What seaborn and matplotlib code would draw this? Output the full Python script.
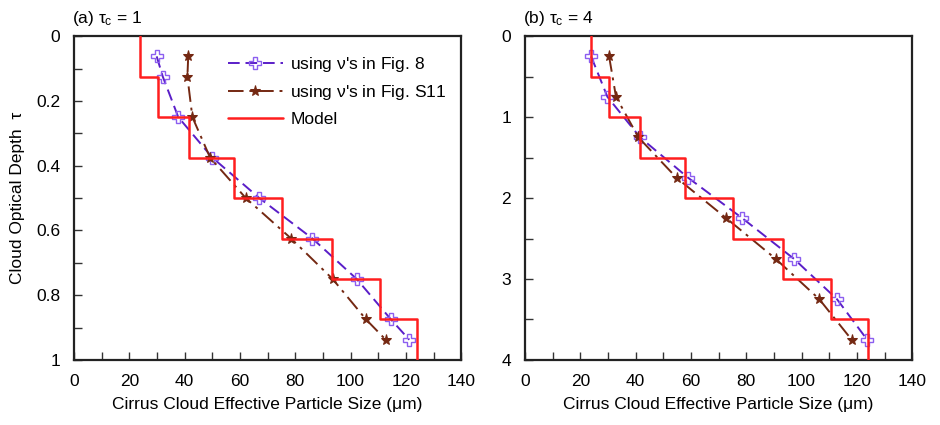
import numpy as np
import pandas as pd
import matplotlib
matplotlib.use("Agg")
import matplotlib.pyplot as plt
from matplotlib.ticker import MultipleLocator
import seaborn as sns

# Model effective particle size per layer (um), identical for both cloud depths
model_size = [23.8, 30.5, 41.4, 58.0, 75.2, 93.3, 110.6, 123.9]

# Panel (a): tau_c = 1
tau_a_edges = [0, 0.125, 0.25, 0.375, 0.5, 0.625, 0.75, 0.875, 1.0]
tau_a_pts = [0.0625, 0.125, 0.25, 0.375, 0.5, 0.625, 0.75, 0.875, 0.9375]
fig8_a = [29.9, 32.1, 37.7, 50.0, 67.0, 86.2, 102.2, 114.6, 121.2]
figs11_a = [41.3, 41.0, 42.8, 49.2, 62.1, 78.5, 93.5, 105.6, 112.7]

# Panel (b): tau_c = 4
tau_b_edges = [0, 0.5, 1.0, 1.5, 2.0, 2.5, 3.0, 3.5, 4.0]
tau_b_pts = [0.25, 0.75, 1.25, 1.75, 2.25, 2.75, 3.25, 3.75]
fig8_b = [23.9, 29.8, 41.6, 59.0, 78.6, 97.2, 112.8, 123.7]
figs11_b = [30.4, 32.9, 41.0, 54.8, 72.8, 90.6, 106.4, 118.1]

sns.set_theme(style="white")
plt.rcParams['font.family'] = ['Liberation Sans', 'DejaVu Sans']
plt.rcParams['mathtext.fontset'] = 'custom'
plt.rcParams['mathtext.rm'] = 'Liberation Sans'
plt.rcParams['mathtext.it'] = 'Liberation Sans'
plt.rcParams['text.color'] = 'black'
plt.rcParams['axes.labelcolor'] = 'black'
plt.rcParams['xtick.color'] = 'black'
plt.rcParams['ytick.color'] = 'black'

PURPLE_LINE = "#5a1ec8"
PURPLE_MARK = "#8c5ef0"
BROWN = "#742812"
RED = "#ff1e1e"

fig = plt.figure(figsize=(9.4, 4.25), dpi=100)
ax_a = fig.add_axes([0.0787, 0.153, 0.412, 0.762])
ax_b = fig.add_axes([0.5585, 0.153, 0.412, 0.762])


def step_profile(sizes, edges):
    xs = np.repeat(sizes, 2)
    ys = np.repeat(edges, 2)[1:-1]
    return xs, ys


def draw_panel(ax, edges, pts, f8, f11, ymax, ymajor, yminor, label, legend):
    d8 = pd.DataFrame({"size": f8, "tau": pts})
    d11 = pd.DataFrame({"size": f11, "tau": pts[:len(f11)]})
    sx, sy = step_profile(model_size, edges)
    dm = pd.DataFrame({"size": sx, "tau": sy})

    sns.lineplot(data=d8, x="size", y="tau", sort=False, estimator=None, ax=ax,
                 color=PURPLE_LINE, lw=1.4, linestyle=(0, (6, 3)),
                 marker="P", markersize=8, markerfacecolor="none",
                 markeredgecolor=PURPLE_MARK, markeredgewidth=1.0,
                 label=r"using $\nu$'s in Fig. 8", zorder=3)
    sns.lineplot(data=d11, x="size", y="tau", sort=False, estimator=None, ax=ax,
                 color=BROWN, lw=1.4, linestyle=(0, (8, 3, 1.5, 3)),
                 marker="*", markersize=8, markerfacecolor=BROWN,
                 markeredgecolor=BROWN, label=r"using $\nu$'s in Fig. S11", zorder=3)
    sns.lineplot(data=dm, x="size", y="tau", sort=False, estimator=None, ax=ax,
                 color=RED, lw=1.8, label="Model", zorder=4)

    ax.set_xlim(0, 140)
    ax.set_ylim(ymax, 0)
    ax.xaxis.set_major_locator(MultipleLocator(20))
    ax.xaxis.set_minor_locator(MultipleLocator(10))
    ax.yaxis.set_major_locator(MultipleLocator(ymajor))
    ax.yaxis.set_minor_locator(MultipleLocator(yminor))
    ax.tick_params(axis="both", which="both", direction="in", top=False, right=False,
                   bottom=True, left=True, labelsize=12.5, color="#333333")
    ax.tick_params(axis="both", which="major", length=6, width=1, pad=10)
    ax.tick_params(axis="both", which="minor", length=6, width=1)
    for sp in ax.spines.values():
        sp.set_color("#222222")
        sp.set_linewidth(1.6)
    ax.set_xlabel("Cirrus Cloud Effective Particle Size (\u03bcm)", fontsize=12.5, labelpad=6)
    ax.set_ylabel("")
    ax.text(-0.005, 1.025, label, transform=ax.transAxes, ha="left", va="bottom",
            fontsize=12.5)
    if legend:
        ax.legend(loc="upper left", bbox_to_anchor=(0.37, 0.975), frameon=False,
                  fontsize=12.5, handlelength=3.2, handletextpad=0.4,
                  labelspacing=0.55, borderaxespad=0.2)
    else:
        lg = ax.get_legend()
        if lg is not None:
            lg.remove()


draw_panel(ax_a, tau_a_edges, tau_a_pts, fig8_a, figs11_a, 1.0, 0.2, 0.1,
           r"(a) $\tau_{\rm c}$ = 1", True)
ax_a.set_yticks([0, 0.2, 0.4, 0.6, 0.8, 1.0])
ax_a.set_yticklabels(["0", "0.2", "0.4", "0.6", "0.8", "1"])
ax_a.set_ylabel("Cloud Optical Depth  \u03c4", fontsize=12.5, labelpad=8)

draw_panel(ax_b, tau_b_edges, tau_b_pts, fig8_b, figs11_b, 4.0, 1, 0.5,
           r"(b) $\tau_{\rm c}$ = 4", False)

fig.savefig("out.png", dpi=100, facecolor="white")
